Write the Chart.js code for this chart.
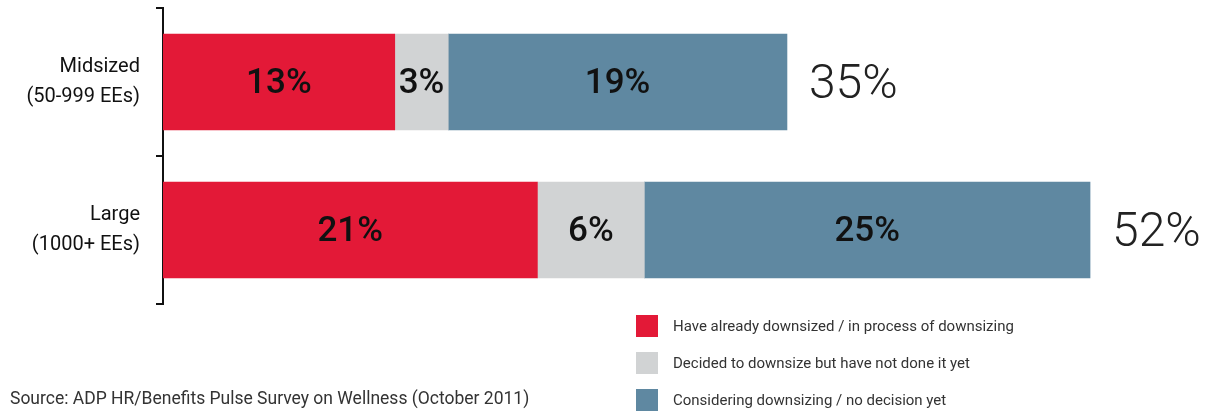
<!DOCTYPE html>
<html>
<head>
<meta charset="utf-8">
<script src="https://cdn.jsdelivr.net/npm/chart.js@4"></script>
<style>
  html, body { margin: 0; padding: 0; background: #fff; }
  #wrap { width: 1214px; height: 415px; position: relative; }
</style>
</head>
<body>
<div id="wrap"><canvas id="chart" width="1214" height="415"></canvas></div>
<script>
// ── DATA ─────────────────────────────────────────────────
const categories   = [['Midsized', '(50-999 EEs)'], ['Large', '(1000+ EEs)']];
const seriesNames  = [
  'Have already downsized / in process of downsizing',
  'Decided to downsize but have not done it yet',
  'Considering downsizing / no decision yet'
];
const alreadyDone  = [13, 21];
const decided      = [3, 6];
const considering  = [19, 25];
const totals       = [35, 52];
const sourceNote   = 'Source: ADP HR/Benefits Pulse Survey on Wellness (October 2011)';

const colors = ['#E31937', '#D1D3D4', '#5F88A1'];

// ── LABELS + LEGEND PLUGIN ───────────────────────────────
const extras = {
  id: 'extras',
  afterDatasetsDraw(chart) {
    const ctx = chart.ctx;
    ctx.save();
    ctx.textBaseline = 'middle';

    // values inside the bars
    ctx.font = '500 35px Roboto';
    ctx.fillStyle = '#111';
    ctx.textAlign = 'center';
    chart.data.datasets.forEach((ds, di) => {
      chart.getDatasetMeta(di).data.forEach((bar, i) => {
        const p = bar.getProps(['x', 'y', 'base'], true);
        ctx.fillText(ds.data[i] + '%', (p.x + p.base) / 2, p.y + 2);
      });
    });

    // totals at the end of each stack
    ctx.font = '300 48px Roboto';
    ctx.fillStyle = '#222';
    ctx.textAlign = 'left';
    const last = chart.getDatasetMeta(chart.data.datasets.length - 1).data;
    last.forEach((bar, i) => {
      ctx.fillText(totals[i] + '%', bar.x + 22, bar.y + 4);
    });

    // legend
    ctx.font = '15px Roboto';
    chart.data.datasets.forEach((ds, di) => {
      const y = 315 + di * 37;
      ctx.fillStyle = ds.backgroundColor;
      ctx.fillRect(636, y, 22, 22);
      ctx.fillStyle = '#333';
      ctx.fillText(ds.label, 673, y + 12);
    });

    // source
    ctx.font = '17.5px Roboto';
    ctx.fillText(sourceNote, 10, 400);
    ctx.restore();
  }
};

new Chart(document.getElementById('chart'), {
  type: 'bar',
  data: {
    labels: categories,
    datasets: [
      { label: seriesNames[0], data: alreadyDone, backgroundColor: colors[0] },
      { label: seriesNames[1], data: decided,     backgroundColor: colors[1] },
      { label: seriesNames[2], data: considering, backgroundColor: colors[2] }
    ]
  },
  options: {
    indexAxis: 'y',
    responsive: false,
    animation: false,
    barThickness: 96,
    layout: { padding: { top: 8, bottom: 111, right: 17, left: 0 } },
    plugins: { legend: { display: false }, tooltip: { enabled: false } },
    scales: {
      x: { stacked: true, display: false, min: 0, max: 58 },
      y: {
        stacked: true,
        afterFit(scale) {
          scale.width = 163;
          scale.paddingTop = 0;
          scale.paddingBottom = 0;
        },
        border: { color: '#111', width: 2 },
        grid: { offset: true, drawOnChartArea: false, color: '#111', lineWidth: 2, tickLength: 7 },
        ticks: { color: '#111', font: { family: 'Roboto', size: 20, lineHeight: 1.5 }, padding: 16 }
      }
    }
  },
  plugins: [extras]
});
</script>
</body>
</html>
